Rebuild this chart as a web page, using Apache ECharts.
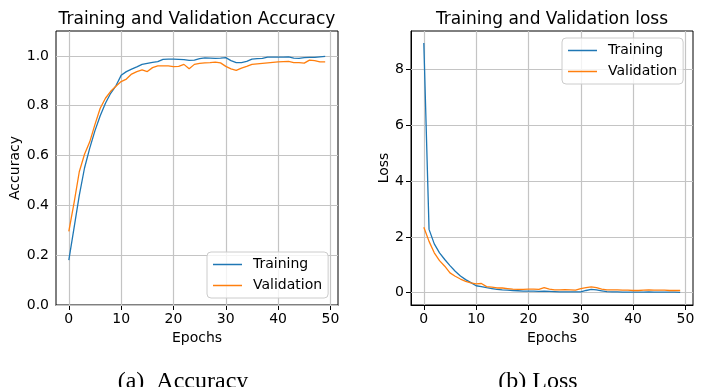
<!DOCTYPE html>
<html>
<head>
<meta charset="utf-8">
<script src="https://cdn.jsdelivr.net/npm/echarts@6/dist/echarts.min.js"></script>
<style>
  html, body { margin: 0; padding: 0; background: #fff; }
  #chart { width: 703px; height: 387px; }
</style>
</head>
<body>
<div id="chart"></div>
<script>
// epochs on the x axis
const epochs = [0, 1, 2, 3, 4, 5, 6, 7, 8, 9, 10, 11, 12, 13, 14, 15, 16, 17, 18, 19,
  20, 21, 22, 23, 24, 25, 26, 27, 28, 29, 30, 31, 32, 33, 34, 35, 36, 37, 38, 39,
  40, 41, 42, 43, 44, 45, 46, 47, 48, 49];

const accTrain = [0.18, 0.31, 0.44, 0.55, 0.63, 0.70, 0.76, 0.81, 0.85, 0.88,
  0.922, 0.937, 0.947, 0.956, 0.966, 0.970, 0.974, 0.977, 0.986, 0.987,
  0.987, 0.986, 0.985, 0.982, 0.983, 0.989, 0.992, 0.991, 0.990, 0.991,
  0.993, 0.981, 0.973, 0.973, 0.978, 0.987, 0.989, 0.990, 0.995, 0.995,
  0.995, 0.995, 0.996, 0.991, 0.990, 0.993, 0.994, 0.994, 0.996, 0.998];

const accVal = [0.296, 0.41, 0.535, 0.605, 0.655, 0.725, 0.79, 0.83, 0.858, 0.878,
  0.897, 0.907, 0.927, 0.937, 0.944, 0.937, 0.953, 0.960, 0.960, 0.960,
  0.957, 0.958, 0.966, 0.948, 0.966, 0.970, 0.972, 0.973, 0.975, 0.972,
  0.958, 0.948, 0.942, 0.951, 0.958, 0.966, 0.968, 0.970, 0.972, 0.974,
  0.976, 0.977, 0.978, 0.973, 0.973, 0.971, 0.983, 0.981, 0.976, 0.976];

const lossTrain = [8.95, 2.27, 1.75, 1.43, 1.19, 0.97, 0.77, 0.60, 0.47, 0.36,
  0.25, 0.22, 0.18, 0.15, 0.12, 0.10, 0.09, 0.08, 0.07, 0.06,
  0.06, 0.06, 0.05, 0.06, 0.05, 0.04, 0.03, 0.03, 0.03, 0.03,
  0.03, 0.08, 0.12, 0.10, 0.07, 0.04, 0.03, 0.03, 0.02, 0.02,
  0.02, 0.02, 0.02, 0.03, 0.02, 0.02, 0.02, 0.02, 0.02, 0.01];

const lossVal = [2.35, 1.84, 1.43, 1.15, 0.95, 0.71, 0.59, 0.49, 0.41, 0.35,
  0.32, 0.33, 0.22, 0.20, 0.17, 0.17, 0.15, 0.13, 0.12, 0.12,
  0.13, 0.13, 0.12, 0.18, 0.13, 0.10, 0.10, 0.11, 0.10, 0.09,
  0.15, 0.18, 0.21, 0.18, 0.13, 0.10, 0.10, 0.10, 0.09, 0.09,
  0.08, 0.08, 0.09, 0.10, 0.09, 0.09, 0.09, 0.08, 0.08, 0.08];

// tick labels
const epochTicks = [0, 10, 20, 30, 40, 50];
const accTicks = [0, 0.2, 0.4, 0.6, 0.8, 1.0];
const lossTicks = [0, 2, 4, 6, 8];

const BLUE = "#1f77b4";
const ORANGE = "#ff7f0e";
const FONT = "DejaVu Sans";

const chart = echarts.init(document.getElementById("chart"), null, { renderer: "canvas" });

function pairs(ys) {
  return epochs.map((e, i) => [e, ys[i]]);
}

// matplotlib style grid, kept under the curves and the legend
function gridLines(xs, ys) {
  return {
    silent: true,
    z: 1,
    symbol: "none",
    label: { show: false },
    lineStyle: { color: "#c4c4c4", width: 1.2, type: "solid" },
    data: xs.map((v) => ({ xAxis: v })).concat(ys.map((v) => ({ yAxis: v }))),
  };
}

function xAxisOpt(gridIndex) {
  return {
    type: "value",
    gridIndex: gridIndex,
    min: -2.45,
    max: 51.45,
    name: "Epochs",
    nameLocation: "middle",
    nameGap: 19,
    nameTextStyle: { fontFamily: FONT, fontSize: 14, color: "#000" },
    axisLine: { show: true, onZero: false, lineStyle: { color: "#000", width: 1 } },
    axisTick: { show: true, length: 5, customValues: epochTicks, lineStyle: { color: "#000" } },
    axisLabel: { customValues: epochTicks, margin: 7, fontFamily: FONT, fontSize: 14, color: "#000" },
    splitLine: { show: false },
  };
}

function lineSeries(name, color, data, xi, yi) {
  return {
    name: name,
    type: "line",
    xAxisIndex: xi,
    yAxisIndex: yi,
    data: pairs(data),
    showSymbol: false,
    symbol: "none",
    lineStyle: { color: color, width: 1.3 },
    itemStyle: { color: color },
    z: 3,
  };
}

function legendOpt(left, top) {
  return {
    left: left,
    top: top,
    z: 10,
    orient: "vertical",
    data: ["Training", "Validation"],
    icon: "rect",
    itemWidth: 29,
    itemHeight: 1.5,
    itemGap: 0,
    padding: [2, 6, 2, 6],
    backgroundColor: "rgba(255,255,255,0.8)",
    borderColor: "#cccccc",
    borderWidth: 1,
    borderRadius: 4,
    selectedMode: false,
    textStyle: { fontFamily: FONT, fontSize: 14, color: "#000", lineHeight: 21, padding: [0, 0, 0, 6] },
  };
}

const option = {
  animation: false,
  backgroundColor: "#fff",
  grid: [
    { left: 56, top: 31, width: 282, height: 274, show: true, borderColor: "#000", borderWidth: 1 },
    { left: 411, top: 31, width: 282, height: 274, show: true, borderColor: "#000", borderWidth: 1 },
  ],
  xAxis: [xAxisOpt(0), xAxisOpt(1)],
  yAxis: [
    {
      type: "value",
      gridIndex: 0,
      min: 0,
      max: 1.1,
      name: "Accuracy",
      nameLocation: "middle",
      nameGap: 27,
      nameTextStyle: { fontFamily: FONT, fontSize: 14, color: "#000" },
      axisLine: { show: true, lineStyle: { color: "#000", width: 1 } },
      axisTick: { show: true, length: 5, customValues: accTicks, lineStyle: { color: "#000" } },
      axisLabel: {
        customValues: accTicks,
        margin: 7,
        fontFamily: FONT,
        fontSize: 14,
        color: "#000",
        formatter: (v) => v.toFixed(1),
      },
      splitLine: { show: false },
    },
    {
      type: "value",
      gridIndex: 1,
      min: -0.44,
      max: 9.38,
      name: "Loss",
      nameLocation: "middle",
      nameGap: 12,
      nameTextStyle: { fontFamily: FONT, fontSize: 14, color: "#000" },
      axisLine: { show: true, onZero: false, lineStyle: { color: "#000", width: 1 } },
      axisTick: { show: true, length: 5, customValues: lossTicks, lineStyle: { color: "#000" } },
      axisLabel: { customValues: lossTicks, margin: 7, fontFamily: FONT, fontSize: 14, color: "#000" },
      splitLine: { show: false },
    },
  ],
  legend: [legendOpt(207, 252), legendOpt(562, 38)],
  series: [
    { type: "line", xAxisIndex: 0, yAxisIndex: 0, data: [], z: 1, markLine: gridLines(epochTicks, accTicks) },
    { type: "line", xAxisIndex: 1, yAxisIndex: 1, data: [], z: 1, markLine: gridLines(epochTicks, lossTicks) },
    lineSeries("Training", BLUE, accTrain, 0, 0),
    lineSeries("Validation", ORANGE, accVal, 0, 0),
    lineSeries("Training", BLUE, lossTrain, 1, 1),
    lineSeries("Validation", ORANGE, lossVal, 1, 1),
  ],
  graphic: [
    {
      type: "text",
      x: 197,
      y: 20,
      style: { text: "Training and Validation Accuracy", font: "17px 'DejaVu Sans'", fill: "#000", align: "center", verticalAlign: "middle" },
    },
    {
      type: "text",
      x: 552,
      y: 20,
      style: { text: "Training and Validation loss", font: "17px 'DejaVu Sans'", fill: "#000", align: "center", verticalAlign: "middle" },
    },
    {
      type: "text",
      x: 183,
      y: 370,
      style: { text: "(a)  Accuracy", font: "24px 'Liberation Serif'", fill: "#000", align: "center", verticalAlign: "top" },
    },
    {
      type: "text",
      x: 538,
      y: 370,
      style: { text: "(b) Loss", font: "24px 'Liberation Serif'", fill: "#000", align: "center", verticalAlign: "top" },
    },
  ],
};

chart.setOption(option);
</script>
</body>
</html>
